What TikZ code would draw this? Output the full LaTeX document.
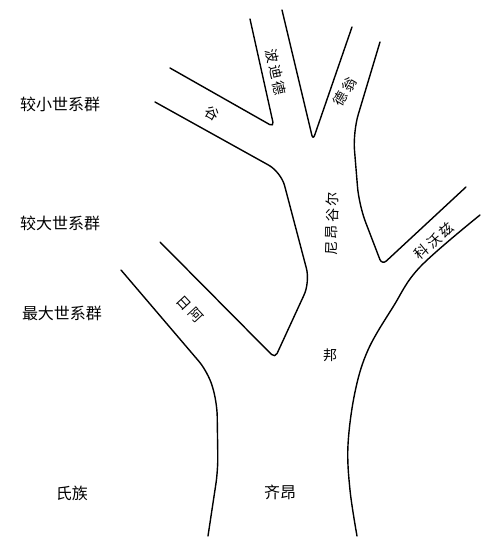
\documentclass[tikz,border=0pt]{standalone}
\usepackage{fontspec}
\setmainfont{Noto Sans CJK SC}
\begin{document}
\begin{tikzpicture}[
            x=1pt, y=-1pt,
            bank/.style={line width=1.4pt, line join=round, line cap=round},
            levellabel/.style={font=\fontsize{16}{16}\selectfont, inner sep=0pt},
            branchlabel/.style={font=\fontsize{14}{14}\selectfont\addfontfeature{LetterSpace=18}, inner sep=0pt}
        ]
        \useasboundingbox (0,0) rectangle (486,539);

        \draw[bank, rounded corners=14pt] (121,270) -- (208,372) -- (217,402) -- (218,470) -- (208,536);
        \draw[bank, rounded corners=14pt] (155,102) -- (281,172) -- (310,282)
            [rounded corners=5pt] -- (275,358) -- (160,242);
        \draw[bank, rounded corners=5pt] (170,68) -- (274,127) -- (250,19);
        \draw[bank, rounded corners=5pt] (282,10) -- (313,140) -- (352,27);
        \draw[bank, rounded corners=18pt] (380,42) -- (353,132) -- (359,205)
            [rounded corners=6pt] -- (382,265) -- (466,187);
        \draw[bank] plot[smooth, tension=0.6] coordinates {(480,215) (420,267) (393,307) (368,350) (355,392) (348,445) (350,490) (357,536)};

        \node[levellabel] (small) at (60,104) {较小世系群};
        \node[levellabel] (large) at (60,223) {较大世系群};
        \node[levellabel] (maximal) at (62,313) {最大世系群};
        \node[levellabel] (clan) at (72,493) {氏族};

        \node[levellabel] (jinaca) at (280,492) {齐昂};
        \node[branchlabel, rotate=-30] (gu) at (212,113) {谷};
        \node[branchlabel, rotate=-77] (bodide) at (276,72) {波迪德};
        \node[branchlabel, rotate=60] (deweng) at (345,92) {德翁};
        \node[branchlabel, rotate=88] (nianggur) at (332,224) {尼昂谷尔};
        \node[branchlabel, rotate=40] (kewozi) at (434,241) {科沃兹};
        \node[branchlabel, rotate=-47] (ria) at (190,309) {日阿};
        \node[branchlabel] (bang) at (330,355) {邦};
    \end{tikzpicture}
\end{document}
